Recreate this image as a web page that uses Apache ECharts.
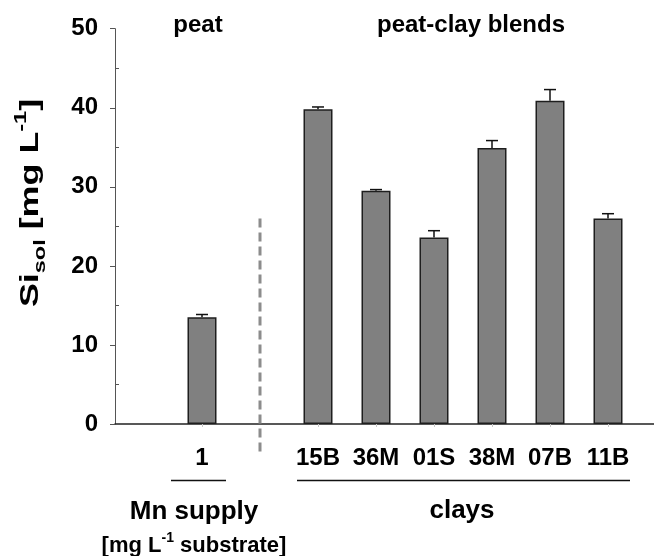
<!DOCTYPE html>
<html>
<head>
<meta charset="utf-8">
<script src="https://cdn.jsdelivr.net/npm/echarts@6/dist/echarts.min.js"></script>
<style>
  html, body { margin: 0; padding: 0; background: #fff; }
  #chart { width: 654px; height: 556px; }
</style>
</head>
<body>
<div id="chart"></div>
<script>
// Soluble Si in peat and peat-clay blends
const peatCategories = ['1'];
const peatValues = [13.5];
const peatErrors = [0.35];

const clayCategories = ['15B', '36M', '01S', '38M', '07B', '11B'];
const clayValues = [39.8, 29.5, 23.6, 34.9, 40.9, 26.0];
const clayErrors = [0.3, 0.15, 0.85, 0.95, 1.4, 0.6];

const yTicks = [0, 10, 20, 30, 40, 50];

// Divider between peat and blends, in axis values (top and bottom end)
const dividerRange = [26, -3.7];

// Slot layout: empty slot, peat, divider slot, clays
const axisCats = [' ', ...peatCategories, '  ', ...clayCategories];
const barData = ['-', ...peatValues, '-', ...clayValues];
const errData = [];
peatValues.forEach((v, i) => errData.push([1 + i, v, peatErrors[i]]));
clayValues.forEach((v, i) => errData.push([3 + i, v, clayErrors[i]]));
const dividerIndex = 1 + peatCategories.length;

const FONT = '"Liberation Sans", Arial, sans-serif';
const plotTop = 28.7, plotBottom = 132;
const slotPx = 58;
const halfStepPx = (556 - plotTop - plotBottom) / 10; // height of 5 units

const chart = echarts.init(document.getElementById('chart'), null, { renderer: 'canvas' });

chart.setOption({
  animation: false,
  backgroundColor: '#fff',
  grid: [
    { left: 115, right: 0, top: plotTop, bottom: plotBottom },
    { left: 115, width: slotPx * axisCats.length, top: plotTop, bottom: plotBottom },
    { left: 115, width: 10, top: plotTop + halfStepPx, bottom: plotBottom + halfStepPx }
  ],
  xAxis: [
    {
      gridIndex: 0, type: 'value', min: 0, max: 1,
      axisLine: { show: true, lineStyle: { color: '#222', width: 1.5 } },
      axisTick: { show: false }, axisLabel: { show: false }, splitLine: { show: false }
    },
    {
      gridIndex: 1, type: 'category', data: axisCats,
      axisLine: { show: false },
      axisTick: {
        show: true, alignWithLabel: true, length: 3,
        interval: (i) => axisCats[i].trim() !== '',
        lineStyle: { color: '#c8c8c8' }
      },
      axisLabel: {
        interval: 0, margin: 22,
        fontFamily: FONT, fontWeight: 'bold', fontSize: 24, color: '#000'
      }
    },
    { gridIndex: 2, type: 'value', show: false }
  ],
  yAxis: [
    {
      gridIndex: 0, type: 'value', min: yTicks[0], max: yTicks[yTicks.length - 1], interval: 10,
      axisLine: { show: true, lineStyle: { color: '#555', width: 1 } },
      axisTick: { show: true, length: 5, lineStyle: { color: '#555' } },
      axisLabel: { margin: 17, fontFamily: FONT, fontWeight: 'bold', fontSize: 24, color: '#000' },
      splitLine: { show: false }
    },
    { gridIndex: 1, type: 'value', min: 0, max: 50, show: false },
    {
      gridIndex: 2, type: 'value', min: 5, max: 45, interval: 10,
      axisLine: { show: false },
      axisTick: { show: true, inside: true, length: 4, lineStyle: { color: '#555' } },
      axisLabel: { show: false }, splitLine: { show: false }
    }
  ],
  series: [
    {
      type: 'bar', xAxisIndex: 1, yAxisIndex: 1,
      data: barData, barWidth: 29,
      itemStyle: { color: '#808080', borderColor: '#1e1e1e', borderWidth: 1.5 }
    },
    {
      type: 'custom', xAxisIndex: 1, yAxisIndex: 1, clip: false,
      data: errData,
      renderItem: (params, api) => {
        const x = api.value(0);
        const base = api.coord([x, api.value(1)]);
        const top = api.coord([x, api.value(1) + api.value(2)]);
        const half = 6;
        const style = { stroke: '#111', lineWidth: 1.5 };
        return {
          type: 'group',
          children: [
            { type: 'line', shape: { x1: base[0], y1: base[1], x2: top[0], y2: top[1] }, style },
            { type: 'line', shape: { x1: top[0] - half, y1: top[1], x2: top[0] + half, y2: top[1] }, style }
          ]
        };
      }
    },
    {
      // dashed divider between the peat and the blends
      type: 'line', xAxisIndex: 1, yAxisIndex: 1, clip: false,
      data: dividerRange.map((v) => [dividerIndex, v]),
      symbol: 'none', silent: true,
      lineStyle: { color: '#8c8c8c', width: 3, type: [9, 5] }
    }
  ],
  graphic: [
    {
      type: 'text', x: 31, y: 203, rotation: Math.PI / 2, scaleX: 1.38,
      style: {
        text: '{a|Si}{s|sol}{a| [mg L}{p|-1}{a|]}',
        align: 'center', verticalAlign: 'middle',
        rich: {
          a: { fontFamily: FONT, fontWeight: 'bold', fontSize: 26, lineHeight: 36, fill: '#000' },
          s: { fontFamily: FONT, fontWeight: 'bold', fontSize: 17, lineHeight: 17, verticalAlign: 'bottom', fill: '#000' },
          p: { fontFamily: FONT, fontWeight: 'bold', fontSize: 17, lineHeight: 17, verticalAlign: 'top', fill: '#000' }
        }
      }
    },
    {
      type: 'text', x: 198, y: 25,
      style: { text: 'peat', font: 'bold 24px ' + FONT, fill: '#000', align: 'center', verticalAlign: 'middle' }
    },
    {
      type: 'text', x: 471, y: 25,
      style: { text: 'peat-clay blends', font: 'bold 24px ' + FONT, fill: '#000', align: 'center', verticalAlign: 'middle' }
    },
    { type: 'line', shape: { x1: 171, y1: 480.5, x2: 226, y2: 480.5 }, style: { stroke: '#111', lineWidth: 1.5 } },
    { type: 'line', shape: { x1: 297, y1: 480.5, x2: 630, y2: 480.5 }, style: { stroke: '#111', lineWidth: 1.5 } },
    {
      type: 'text', x: 194, y: 512,
      style: { text: 'Mn supply', font: 'bold 26px ' + FONT, fill: '#000', align: 'center', verticalAlign: 'middle' }
    },
    {
      type: 'text', x: 194, y: 546,
      style: {
        text: '{a|[mg L}{p|-1}{a| substrate]}',
        align: 'center', verticalAlign: 'middle',
        rich: {
          a: { fontFamily: FONT, fontWeight: 'bold', fontSize: 22, lineHeight: 30, fill: '#000' },
          p: { fontFamily: FONT, fontWeight: 'bold', fontSize: 14, lineHeight: 14, verticalAlign: 'top', fill: '#000' }
        }
      }
    },
    {
      type: 'text', x: 462, y: 511,
      style: { text: 'clays', font: 'bold 26px ' + FONT, fill: '#000', align: 'center', verticalAlign: 'middle' }
    }
  ]
});
</script>
</body>
</html>
